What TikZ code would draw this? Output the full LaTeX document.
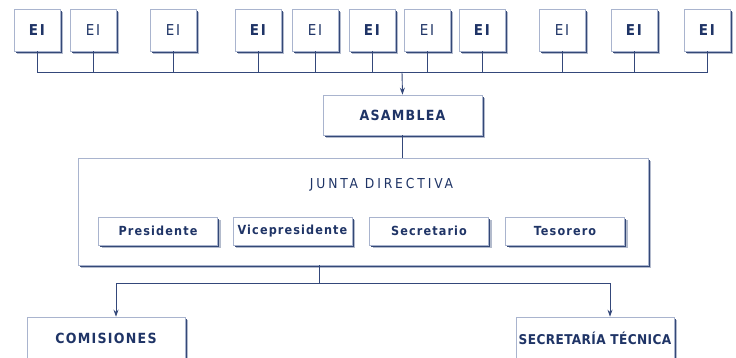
\documentclass[tikz,border=0pt]{standalone}
\usepackage{fontspec}
\setmainfont{DejaVu Sans Condensed}
\newfontfamily\eifont[LetterSpace=12]{DejaVu Sans Condensed}
\newfontfamily\lsfont[LetterSpace=9]{DejaVu Sans Condensed}
\newfontfamily\wsfont[LetterSpace=21]{DejaVu Sans Condensed}
\newfontfamily\tsfont[LetterSpace=3]{DejaVu Sans Condensed}
\usetikzlibrary{shadows,arrows.meta}
\definecolor{navy}{HTML}{1F3466}
\definecolor{linec}{HTML}{34487A}
\definecolor{bord}{HTML}{A9B4CE}
\definecolor{shad}{HTML}{2E4272}
\begin{document}
\begin{tikzpicture}[x=1pt,y=-1pt,
  box/.style={draw=bord, line width=0.6pt, fill=white, text=navy, inner sep=0pt, align=center,
    drop shadow={shadow xshift=3.4pt, shadow yshift=-3.4pt, fill=shad!45, opacity=0.8},
    drop shadow={shadow xshift=1.8pt, shadow yshift=-1.8pt, fill=shad, opacity=0.95}},
  eib/.style={box, minimum width=46pt, minimum height=42pt, font=\fontsize{15}{17}\selectfont\eifont\bfseries},
  eir/.style={box, minimum width=46pt, minimum height=42pt, font=\fontsize{15}{17}\selectfont\eifont},
  head/.style={box, font=\fontsize{14}{16}\selectfont\lsfont\bfseries},
  role/.style={box, minimum width=119pt, minimum height=28pt, font=\fontsize{12.5}{14}\selectfont\lsfont\bfseries},
  conn/.style={draw=linec, line width=0.9pt},
  arr/.style={conn, -{Stealth[length=7pt,width=5pt]}}]
\useasboundingbox (0,0) rectangle (736,358);

% EI boxes
\node[eib] (e1)  at (37,30)  {EI};
\node[eir] (e2)  at (93,30)  {EI};
\node[eir] (e3)  at (173,30) {EI};
\node[eib] (e4)  at (258,30) {EI};
\node[eir] (e5)  at (315,30) {EI};
\node[eib] (e6)  at (372,30) {EI};
\node[eir] (e7)  at (427,30) {EI};
\node[eib] (e8)  at (482,30) {EI};
\node[eir] (e9)  at (562,30) {EI};
\node[eib] (e10) at (634,30) {EI};
\node[eib] (e11) at (707,30) {EI};

\coordinate (bus) at (402,72);

% ASAMBLEA
\node[head, minimum width=159pt, minimum height=40pt] (asam) at (402.5,115) {ASAMBLEA};

% Junta directiva
\node[box, minimum width=570pt, minimum height=107pt] (junta) at (363,211.5) {};
\node[text=navy, font=\fontsize{13.7}{15}\selectfont\wsfont, inner sep=0pt] (jtitle) at (381.5,185) {JUNTA DIRECTIVA};
\node[role] (pres) at (158,231)   {Presidente};
\node[role] (vice) at (292.5,231) {Vicepresidente};
\node[role] (secr) at (429,231)   {Secretario};
\node[role] (teso) at (565,231)   {Tesorero};

% bottom boxes
\node[head, minimum width=158pt, minimum height=42pt] (com) at (106,338) {COMISIONES};
\node[box, minimum width=158pt, minimum height=42pt, font=\fontsize{13.5}{15}\selectfont\tsfont\bfseries] (sect) at (595,338) {SECRETARÍA TÉCNICA};

\coordinate (split) at (319,283);

% connectors
\foreach \n in {e1,e2,e3,e4,e5,e6,e7,e8,e9,e10,e11}
  \draw[conn] (\n.south) |- (bus);
\draw[arr] (bus) -- (asam.north);
\draw[conn] (asam.south) -- (asam.south |- junta.north);
\draw[conn] (split |- junta.south) -- (split);
\draw[arr] (split) -| ([xshift=10pt]com.north);
\draw[arr] (split) -| ([xshift=15pt]sect.north);
\end{tikzpicture}
\end{document}
